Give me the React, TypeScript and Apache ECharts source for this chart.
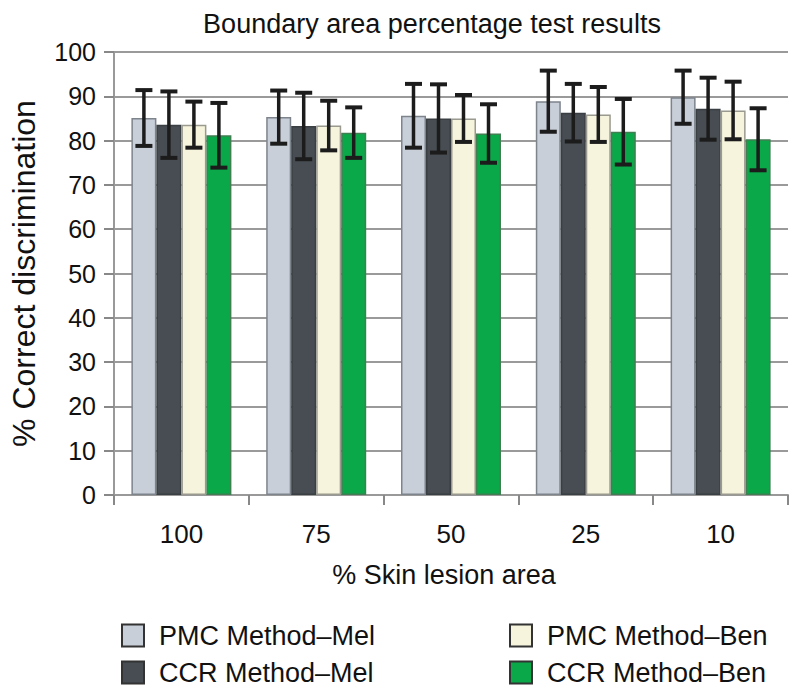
import React, { useEffect, useRef } from "react";
import * as echarts from "echarts";

const categories = ["100", "75", "50", "25", "10"];
const seriesNames = ["PMC Method\u2013Mel", "CCR Method\u2013Mel", "PMC Method\u2013Ben", "CCR Method\u2013Ben"];
const pmcMel = [85.1, 85.3, 85.6, 88.9, 89.8];
const ccrMel = [83.6, 83.3, 85.0, 86.3, 87.2];
const pmcBen = [83.6, 83.4, 85.0, 85.9, 86.8];
const ccrBen = [81.2, 81.8, 81.6, 82.0, 80.3];
const pmcMelErr = [6.3, 6.0, 7.2, 6.9, 6.0];
const ccrMelErr = [7.5, 7.5, 7.7, 6.5, 7.0];
const pmcBenErr = [5.2, 5.6, 5.3, 6.2, 6.5];
const ccrBenErr = [7.3, 5.7, 6.6, 7.4, 7.0];
const yTicks = [0, 10, 20, 30, 40, 50, 60, 70, 80, 90, 100];

const values = [pmcMel, ccrMel, pmcBen, ccrBen];
const errs = [pmcMelErr, ccrMelErr, pmcBenErr, ccrBenErr];
const colors = ["#c8cfd9", "#474d52", "#f6f4dc", "#0ba84a"];
const borders = ["#7d848c", "#3a3f43", "#9a9a90", "#3f7f52"];
const FONT = "'Liberation Sans', Arial, Helvetica, sans-serif";
const BAR_W = 25;

export default function App() {
  const ref = useRef<HTMLDivElement>(null);
  useEffect(() => {
    if (!ref.current) return;
    const chart = echarts.init(ref.current, undefined, { renderer: "svg" });
    const barSeries = values.map((v, i) => ({
      name: seriesNames[i],
      type: "bar",
      data: v,
      barWidth: BAR_W,
      barGap: "0%",
      itemStyle: { color: colors[i], borderColor: borders[i], borderWidth: 1.5 },
      z: 2,
    }));
    const errSeries = values.map((v, i) => ({
      name: seriesNames[i] + " err",
      type: "custom",
      z: 5,
      silent: true,
      data: v.map((val, j) => [j, val - errs[i][j], val + errs[i][j]]),
      renderItem: (params: any, api: any) => {
        const x = api.value(0);
        const lo = api.coord([x, api.value(1)]);
        const hi = api.coord([x, api.value(2)]);
        const off = (i - 1.5) * BAR_W;
        const cx = lo[0] + off;
        const cap = 8.5;
        const st = { stroke: "#1c1c1c", lineWidth: 3.5 };
        return {
          type: "group",
          children: [
            { type: "line", shape: { x1: cx, y1: hi[1], x2: cx, y2: lo[1] }, style: st },
            { type: "line", shape: { x1: cx - cap, y1: hi[1], x2: cx + cap, y2: hi[1] }, style: { stroke: "#1c1c1c", lineWidth: 4 } },
            { type: "line", shape: { x1: cx - cap, y1: lo[1], x2: cx + cap, y2: lo[1] }, style: { stroke: "#1c1c1c", lineWidth: 4 } },
          ],
        };
      },
    }));
    const legendText = { fontFamily: FONT, fontSize: 27, color: "#111", lineHeight: 22, padding: [0, 0, 0, 10] };
    const legendCommon = {
      orient: "vertical",
      top: 617,
      height: 76,
      itemWidth: 22,
      itemHeight: 22,
      itemGap: 10,
      icon: "rect",
      textStyle: legendText,
    };
    chart.setOption({
      animation: false,
      title: {
        text: "Boundary area percentage test results",
        left: 427,
        textAlign: "center",
        top: 5,
        textStyle: { fontFamily: FONT, fontSize: 27, fontWeight: "normal", color: "#111" },
      },
      grid: { left: 112, right: 12, top: 52, bottom: 200 },
      legend: [
        {
          ...legendCommon,
          data: [seriesNames[0], seriesNames[1]].map((n) => ({ name: n, itemStyle: { borderColor: "#333", borderWidth: 2 } })),
          left: 116,
        },
        {
          ...legendCommon,
          data: [seriesNames[2], seriesNames[3]].map((n) => ({ name: n, itemStyle: { borderColor: "#333", borderWidth: 2 } })),
          left: 504,
        },
      ],
      xAxis: {
        type: "category",
        data: categories,
        name: "% Skin lesion area",
        nameLocation: "middle",
        nameGap: 66,
        nameTextStyle: { fontFamily: FONT, fontSize: 27, color: "#111", padding: [0, 14, 0, 0] },
        axisLine: { lineStyle: { color: "#999", width: 2 } },
        axisTick: { show: true, length: 10, lineStyle: { color: "#888", width: 2 } },
        axisLabel: { fontFamily: FONT, fontSize: 26, color: "#111", margin: 26 },
        splitLine: { show: false },
      },
      yAxis: {
        type: "value",
        min: 0,
        max: 100,
        interval: 10,
        name: "% Correct discrimination",
        nameLocation: "middle",
        nameGap: 74,
        nameTextStyle: { fontFamily: FONT, fontSize: 32, color: "#111" },
        axisLine: { show: true, lineStyle: { color: "#999", width: 2 } },
        axisTick: { show: true, length: 10, lineStyle: { color: "#888", width: 2 } },
        axisLabel: {
          fontFamily: FONT,
          fontSize: 25,
          color: "#111",
          margin: 18,
          formatter: (v: number) => (yTicks.includes(v) ? String(v) : ""),
        },
        splitLine: { show: true, lineStyle: { color: "#9a9a9a", width: 2 } },
      },
      series: [...barSeries, ...errSeries],
    });
    return () => chart.dispose();
  }, []);
  return <div ref={ref} style={{ width: 800, height: 695, margin: -8 }} />;
}
